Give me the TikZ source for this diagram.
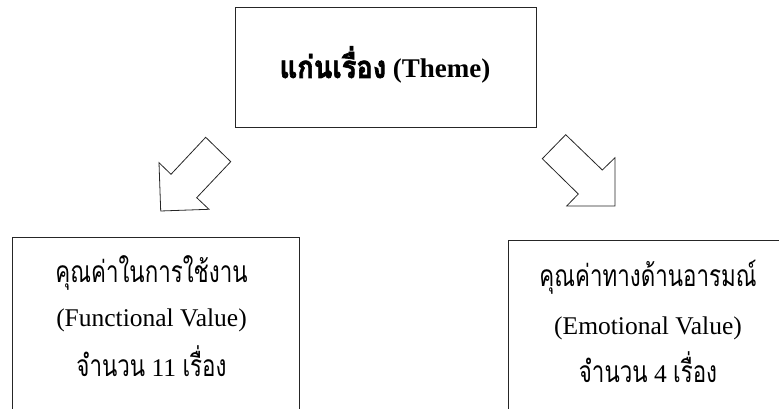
\documentclass[tikz,border=0pt]{standalone}
\usepackage{graphicx}
\usepackage{fontspec}
\setmainfont{Liberation Serif}
\newfontfamily\thaifont[Script=Thai]{Loma}
\newfontfamily\thaiboldfont[Script=Thai, FakeBold=2.2]{Loma}
\tikzset{
  x=1pt, y=1pt,
  frame/.style={draw=black!85, line width=0.9pt, rectangle, inner sep=0pt},
  blockarrow/.style={draw=black!85, line width=0.8pt, line join=miter},
  label/.style={anchor=base, inner sep=0pt, font=\fontsize{25.5}{30}\selectfont},
  title/.style={anchor=base, inner sep=0pt, font=\fontsize{27}{32}\selectfont\bfseries},
}
% Thai runs: Loma, narrowed so it sits like a tall condensed face
\newcommand{\thtxt}[1]{\scalebox{0.745}[1]{\thaifont\fontsize{30}{36}\selectfont #1}}
\newcommand{\thbold}[1]{\scalebox{0.88}[1]{\thaiboldfont\fontsize{31}{36}\selectfont #1}}
\begin{document}
\begin{tikzpicture}
  \useasboundingbox (0,0) rectangle (779,409);
  \clip (0,0) rectangle (779,409);

  % boxes
  \node[frame, minimum width=300.3pt, minimum height=119.5pt] (theme) at (385.85,341.75) {};
  \node[frame, minimum width=287pt, minimum height=192pt] (func) at (155.5,76) {};
  \node[frame, minimum width=282pt, minimum height=189pt] (emo) at (649,74.5) {};

  % texts
  \node[title] (themetxt) at (385,331) {\thbold{แก่นเรื่อง} (Theme)};

  \node[label] (f1) at (151.5,126) {\thtxt{คุณค่าในการใช้งาน}};
  \node[label] (f2) at (151.5,82) {(Functional Value)};
  \node[label] (f3) at (151.5,32) {\thtxt{จำนวน} 11 \thtxt{เรื่อง}};

  \node[label] (e1) at (648,122) {\thtxt{คุณค่าทางด้านอารมณ์}};
  \node[label] (e2) at (648,74) {(Emotional Value)};
  \node[label] (e3) at (648,26) {\thtxt{จำนวน} 4 \thtxt{เรื่อง}};

  % hollow block arrows
  \draw[blockarrow] (205.7,271.7) -- (230.7,247.3) -- (196.7,211.3) -- (209,199.7)
    -- (160.7,198) -- (159,246.3) -- (171,234.7) -- cycle;
  \draw[blockarrow] (565.7,274.3) -- (602.3,239) -- (615,251.3) -- (615,203)
    -- (566.7,203) -- (578.3,215) -- (542.3,250.3) -- cycle;
\end{tikzpicture}
\end{document}
